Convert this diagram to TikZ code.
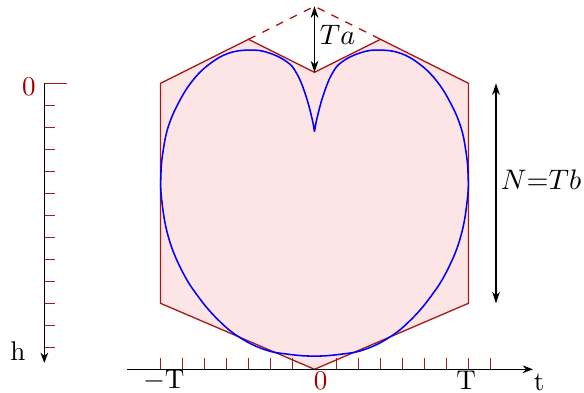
\documentclass[tikz,border=0pt]{standalone}
\usetikzlibrary{arrows.meta}

\definecolor{hexred}{RGB}{170,25,25}
\definecolor{hexfill}{RGB}{253,229,229}
\definecolor{labred}{RGB}{160,0,0}

\tikzset{
  dimarrow/.style={{Stealth[length=4.5pt,width=3pt]}-{Stealth[length=4.5pt,width=3pt]}, line width=0.5pt},
  axisarrow/.style={-{Stealth[length=4pt,width=3pt]}, line width=0.5pt},
  tickmark/.style={hexred, line width=0.5pt},
}

\begin{document}
\begin{tikzpicture}[scale=0.3, every node/.style={font=\fontsize{10.5}{12}\selectfont, inner sep=0pt}]
    \useasboundingbox (-14.295,-1.077) rectangle (12.25,16.786);

    % hexagon with the notch
    \coordinate (apex) at (0,16.5);
    \coordinate (notch) at (0,13.5);
    \fill[hexfill] (-7,3) -- (-7,13) -- (-3,15) -- (notch) -- (3,15) -- (7,13) -- (7,3) -- (0,0) -- cycle;
    \draw[hexred, line width=0.5pt] (-7,3) -- (-7,13) -- (-3,15) -- (notch) -- (3,15) -- (7,13) -- (7,3) -- (0,0) -- cycle;
    \draw[hexred, dashed, line width=0.5pt] (-3,15) -- (apex) -- (3,15);

    % the curve
    \draw[blue, line width=0.6pt] plot[smooth, tension=0.7] coordinates {
        (0,10.8) (-0.13,11.48) (-0.43,12.55) (-0.81,13.45) (-1.26,13.98) (-2.10,14.39)
        (-2.93,14.51) (-3.92,14.36) (-4.83,13.83) (-5.58,13.07) (-6.19,12.09) (-6.645,11.03)
        (-6.873,9.97) (-6.98,8.9) (-6.945,7.70) (-6.645,6.03) (-6.04,4.51) (-5.28,3.30)
        (-4.37,2.24) (-3.40,1.45) (-2.25,0.89) (-1.15,0.68) (0,0.6)
        (1.15,0.68) (2.25,0.89) (3.40,1.45) (4.37,2.24) (5.28,3.30) (6.04,4.51)
        (6.645,6.03) (6.945,7.70) (6.98,8.9) (6.873,9.97) (6.645,11.03) (6.19,12.09)
        (5.58,13.07) (4.83,13.83) (3.92,14.36) (2.93,14.51) (2.10,14.39) (1.26,13.98)
        (0.81,13.45) (0.43,12.55) (0.13,11.48) (0,10.8)};

    % t axis
    \coordinate (tstart) at (-8.52,0);
    \coordinate (tend) at (9.93,0);
    \foreach \k in {-7,...,-1,1,2,...,8}
        \draw[tickmark] (\k,0) -- (\k,0.5);
    \draw[axisarrow] (tstart) -- (tend);
    \node (tmin) at (-6.85,-0.5) {$-$T};
    \node[text=labred] (tzero) at (0.28,-0.5) {0};
    \node (tmax) at (6.89,-0.5) {T};
    \node (tlab) at (10.21,-0.6) {t};

    % h axis
    \coordinate (htop) at (-12.28,13);
    \coordinate (hend) at (-12.28,0.29);
    \coordinate (hzeroend) at (-11.26,13);
    \foreach \k in {1,...,12}
        \draw[tickmark] (-12.28,\k) -- (-11.78,\k);
    \draw[tickmark] (htop) -- (hzeroend);
    \draw[axisarrow] (htop) -- (hend);
    \node[text=labred] (hzero) at (-12.98,12.83) {0};
    \node (hlab) at (-13.48,0.83) {h};

    % dimensions
    \draw[dimarrow] (apex) -- (notch);
    \node (ta) at (1.05,15.2) {$Ta$};
    \coordinate (ntop) at (8.25,13);
    \coordinate (nbot) at (8.25,3);
    \draw[dimarrow] (ntop) -- (nbot);
    \node (ntb) at (10.3,8.6) {$N{=}Tb$};
\end{tikzpicture}
\end{document}
